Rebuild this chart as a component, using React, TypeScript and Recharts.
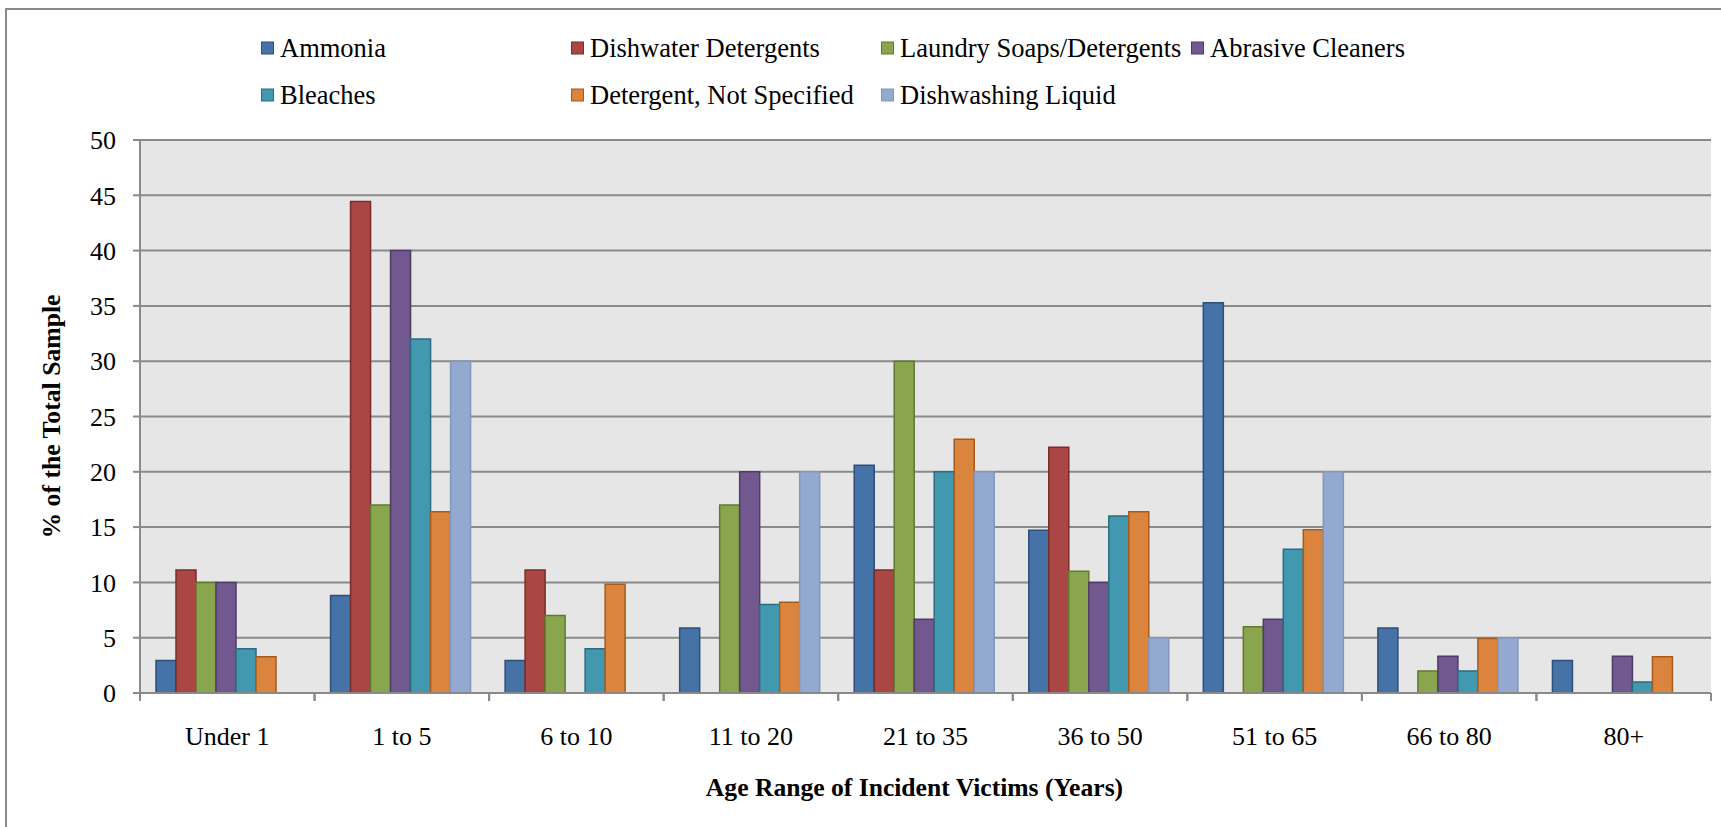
import React from "react";
import {
  BarChart,
  Bar,
  CartesianGrid,
  XAxis,
  YAxis,
  Customized,
} from "recharts";

const categories = [
  "Under 1",
  "1 to 5",
  "6 to 10",
  "11 to 20",
  "21 to 35",
  "36 to 50",
  "51 to 65",
  "66 to 80",
  "80+",
];

const ammonia = [2.94, 8.82, 2.94, 5.88, 20.59, 14.71, 35.29, 5.88, 2.94];
const dishwaterDetergents = [11.11, 44.44, 11.11, 0, 11.11, 22.22, 0, 0, 0];
const laundrySoaps = [10, 17, 7, 17, 30, 11, 6, 2, 0];
const abrasiveCleaners = [10, 40, 0, 20, 6.67, 10, 6.67, 3.33, 3.33];
const bleaches = [4, 32, 4, 8, 20, 16, 13, 2, 1];
const detergentNotSpecified = [3.28, 16.39, 9.84, 8.2, 22.95, 16.39, 14.75, 4.92, 3.28];
const dishwashingLiquid = [0, 30, 0, 20, 20, 5, 20, 5, 0];

const yTicks = [0, 5, 10, 15, 20, 25, 30, 35, 40, 45, 50];

const series = [
  { key: "ammonia", name: "Ammonia", values: ammonia, fill: "#4572a7", stroke: "#2d4f7a" },
  { key: "dishwater", name: "Dishwater Detergents", values: dishwaterDetergents, fill: "#aa4643", stroke: "#792d2b" },
  { key: "laundry", name: "Laundry Soaps/Detergents", values: laundrySoaps, fill: "#89a54e", stroke: "#617a32" },
  { key: "abrasive", name: "Abrasive Cleaners", values: abrasiveCleaners, fill: "#71588f", stroke: "#4e3c66" },
  { key: "bleaches", name: "Bleaches", values: bleaches, fill: "#4198af", stroke: "#2a6d80" },
  { key: "detergent", name: "Detergent, Not Specified", values: detergentNotSpecified, fill: "#db843d", stroke: "#a65b1d" },
  { key: "dishwashing", name: "Dishwashing Liquid", values: dishwashingLiquid, fill: "#93a9cf", stroke: "#8197bd" },
];

const chartData = categories.map((cat, i) => {
  const row: Record<string, string | number> = { category: cat };
  series.forEach((s) => {
    row[s.key] = s.values[i];
  });
  return row;
});

const FONT = "'Liberation Serif', 'Times New Roman', serif";
const GRID = "#8a8a8a";

const XTick = (props: any) => {
  const { x, y, payload } = props;
  const half = payload && payload.offset ? payload.offset : 87.3;
  return (
    <g>
      <line x1={x - half} y1={y} x2={x - half} y2={y + 8} stroke={GRID} strokeWidth={2} />
      <line x1={x + half} y1={y} x2={x + half} y2={y + 8} stroke={GRID} strokeWidth={2} />
      <text
        x={x}
        y={y + 52}
        textAnchor="middle"
        fontFamily={FONT}
        fontSize={26}
        fill="#000"
      >
        {payload.value}
      </text>
    </g>
  );
};

// two-row legend drawn inside the chart svg, in series order
const LegendRows = () => (
  <g className="legend-rows">
    {series.map((s, i) => {
      const col = i < 4 ? i : i - 4;
      const row = i < 4 ? 0 : 1;
      const x = 261 + col * 310;
      const cy = 48 + row * 47;
      return (
        <g key={s.key}>
          <rect
            x={x + 0.5}
            y={cy - 6}
            width={12}
            height={12}
            fill={s.fill}
            stroke={s.stroke}
            strokeWidth={1}
          />
          <text
            x={x + 19}
            y={cy + 9}
            fontFamily={FONT}
            fontSize={26.5}
            fill="#000"
          >
            {s.name}
          </text>
        </g>
      );
    })}
  </g>
);

function App() {
  return (
    <div
      style={{
        position: "fixed",
        left: 0,
        top: 0,
        width: 1721,
        height: 827,
        overflow: "hidden",
        background: "#fff",
      }}
    >
      <div
        style={{
          position: "absolute",
          left: 5,
          top: 8,
          width: 1760,
          height: 860,
          borderLeft: `2px solid ${GRID}`,
          borderTop: `2px solid ${GRID}`,
        }}
      />
      <div style={{ position: "absolute", left: 0, top: 0 }}>
        <BarChart
          width={1721}
          height={827}
          data={chartData}
          margin={{ top: 140, right: 10, bottom: 4, left: 0 }}
          barCategoryGap={16}
          barGap={0}
        >
          <CartesianGrid
            vertical={false}
            stroke={GRID}
            strokeWidth={2}
            fill="#e6e6e6"
            fillOpacity={1}
          />
          <XAxis
            dataKey="category"
            height={130}
            tickLine={false}
            tickSize={0}
            tickMargin={0}
            axisLine={{ stroke: GRID, strokeWidth: 2 }}
            tick={<XTick />}
            interval={0}
            label={{
              content: (p: any) => {
                const vb = p.viewBox || {};
                return (
                  <text
                    x={vb.x + vb.width / 2 - 11}
                    y={vb.y + 103}
                    textAnchor="middle"
                    fontFamily={FONT}
                    fontWeight="bold"
                    fontSize={25.6}
                    fill="#000"
                  >
                    Age Range of Incident Victims (Years)
                  </text>
                );
              },
            }}
          />
          <YAxis
            width={140}
            domain={[0, 50]}
            ticks={yTicks}
            interval={0}
            tickSize={7}
            tickMargin={17}
            tickLine={{ stroke: GRID, strokeWidth: 2 }}
            axisLine={{ stroke: GRID, strokeWidth: 2 }}
            tick={{ fontFamily: FONT, fontSize: 26, fill: "#000" }}
            label={{
              content: (p: any) => {
                const vb = p.viewBox || {};
                const cx = vb.x + 51;
                const cy = vb.y + vb.height / 2;
                return (
                  <text
                    x={cx}
                    y={cy}
                    transform={`rotate(-90 ${cx} ${cy})`}
                    textAnchor="middle"
                    dominantBaseline="central"
                    fontFamily={FONT}
                    fontWeight="bold"
                    fontSize={25.7}
                    fill="#000"
                  >
                    % of the Total Sample
                  </text>
                );
              },
            }}
          />
          <Customized component={<LegendRows />} />
          {series.map((s) => (
            <Bar
              key={s.key}
              dataKey={s.key}
              name={s.name}
              fill={s.fill}
              stroke={s.stroke}
              strokeWidth={1.5}
              isAnimationActive={false}
            />
          ))}
        </BarChart>
      </div>
    </div>
  );
}

export default App;
